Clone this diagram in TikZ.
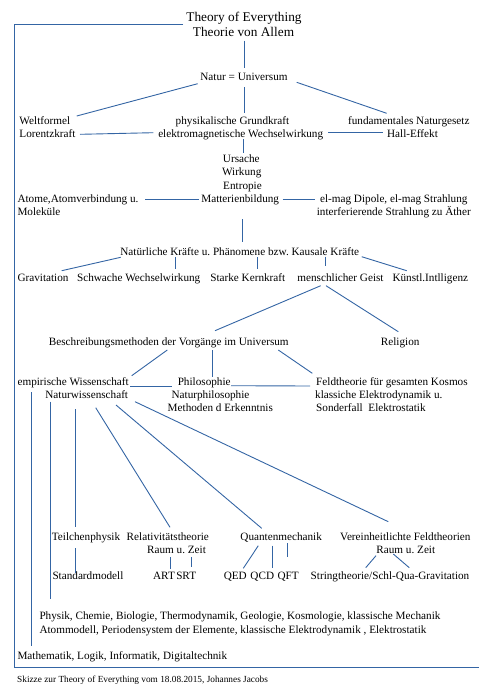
\documentclass[tikz,border=0pt]{standalone}
\usepackage{fontspec}
\setmainfont{Liberation Serif}
\usetikzlibrary{calc}
\definecolor{lineblue}{RGB}{52,101,164}
\frenchspacing
\newcommand\myconn[4]{\draw[ln] ($(#1)+(#2)$) -- ($(#3)+(#4)$);}
\begin{document}
\begin{tikzpicture}[x=1pt,y=-1pt,
  txt/.style={inner sep=0pt, font=\fontsize{11.2}{13.3}\selectfont\frenchspacing, anchor=base},
  txtl/.style={txt, anchor=base west},
  txtr/.style={txt, anchor=base east},
  ttl/.style={inner sep=0pt, font=\fontsize{13.3}{15}\selectfont, anchor=base},
  foottxt/.style={inner sep=0pt, font=\fontsize{9.3}{11}\selectfont\frenchspacing, anchor=base west},
  ln/.style={draw=lineblue, line width=0.9pt}]
\useasboundingbox (0,0) rectangle (496,697);
% nodes
\node[ttl] (t1) at (244,21.7) {Theory of Everything};
\node[ttl] (t2) at (243.5,36.7) {Theorie von Allem};
\node[txt] (natur) at (244,80.7) {Natur = Universum};
\node[txtl] (welt) at (19.3,124.1) {Weltformel};
\node[txt] (phys) at (232.5,124.1) {physikalische Grundkraft};
\node[txt] (fund) at (408.8,124.1) {fundamentales Naturgesetz};
\node[txtl] (lorentz) at (19.3,137.4) {Lorentzkraft};
\node[txt] (elektro) at (240.7,137.4) {elektromagnetische Wechselwirkung};
\node[txt] (hall) at (412.5,137.4) {Hall-Effekt};
\node[txt] (urs) at (241.3,162.7) {Ursache};
\node[txt] (wirk) at (241.7,175.7) {Wirkung};
\node[txt] (entr) at (242.5,189.1) {Entropie};
\node[txt] (matter) at (240.2,202.7) {Matterienbildung};
\node[txtl] (atome) at (17.3,202.7) {Atome,Atomverbindung u.};
\node[txtl] (molek) at (17.3,215.7) {Moleküle};
\node[txt] (elmag1) at (393.8,202.7) {el-mag Dipole, el-mag Strahlung};
\node[txt] (elmag2) at (393.8,215.7) {interferierende Strahlung zu Äther};
\node[txt] (natk) at (239.7,255.1) {Natürliche Kräfte u. Phänomene bzw. Kausale Kräfte};
\node[txtl] (grav) at (17.3,281.1) {Gravitation};
\node[txt] (schw) at (138.7,281.1) {Schwache Wechselwirkung};
\node[txt] (stark) at (247.8,281.1) {Starke Kernkraft};
\node[txt] (mensch) at (340.5,281.1) {menschlicher Geist};
\node[txt] (kuenstl) at (430.3,281.1) {Künstl.Intlligenz};
\node[txt] (beschr) at (168.8,345.7) {Beschreibungsmethoden der Vorgänge im Universum};
\node[txt] (relig) at (400.2,345.7) {Religion};
\node[txtr] (empir) at (129,385.6) {empirische Wissenschaft};
\node[txt] (philo) at (204.2,385.6) {Philosophie};
\node[txtl] (feld) at (316,385.6) {Feldtheorie für gesamten Kosmos};
\node[txtr] (natwiss) at (128.3,398.2) {Naturwissenschaft};
\node[txt] (natphil) at (210.5,398.2) {Naturphilosophie};
\node[txtl] (klass) at (315,398.2) {klassiche Elektrodynamik u.};
\node[txt] (method) at (220.3,411.2) {Methoden d Erkenntnis};
\node[txtl] (sonder) at (316,411.2) {Sonderfall\ \ Elektrostatik};
\node[txtl] (teil) at (51.7,540.8) {Teilchenphysik};
\node[txt] (relat) at (167.8,540.8) {Relativitätstheorie};
\node[txt] (quant) at (281.2,540.8) {Quantenmechanik};
\node[txt] (verein) at (405.3,540.8) {Vereinheitlichte Feldtheorien};
\node[txt] (raum1) at (176.5,553.4) {Raum u. Zeit};
\node[txt] (raum2) at (405.8,553.4) {Raum u. Zeit};
\node[txtl] (stdm) at (52.3,579.3) {Standardmodell};
\node[txt] (art) at (164,579.3) {ART};
\node[txt] (srt) at (186.2,579.3) {SRT};
\node[txt] (qed) at (235.3,579.3) {QED};
\node[txt] (qcd) at (262.3,579.3) {QCD};
\node[txt] (qft) at (288.2,579.3) {QFT};
\node[txt] (string) at (390,579.3) {Stringtheorie/Schl-Qua-Gravitation};
\node[txtl] (physik) at (39.3,619.1) {Physik, Chemie, Biologie, Thermodynamik, Geologie, Kosmologie, klassische Mechanik};
\node[txtl] (atomm) at (39.3,633.4) {Atommodell, Periodensystem der Elemente, klassische Elektrodynamik , Elektrostatik};
\node[txtl] (mathe) at (17.3,659.1) {Mathematik, Logik, Informatik, Digitaltechnik};
\node[foottxt] (foot) at (17,682.7) {Skizze zur Theory of Everything vom 18.08.2015, Johannes Jacobs};
% frame
\coordinate (frameCorner) at (14.3,667.3);
\coordinate (frameEnd) at (479.3,667.3);
\draw[ln] ($(t1.base)+(-61,2.6)$) -| (frameCorner) -- (frameEnd);
% connectors
\myconn{t2.base}{0.8,4}{natur.base}{0.3,-12.4}
\myconn{natur.base}{-46.3,3}{welt.base west}{57.4,-8.1}
\myconn{natur.base}{0.3,6.6}{phys.base}{11.8,-10.8}
\myconn{natur.base}{52.7,1.6}{fund.base}{-22.1,-10.8}
\myconn{lorentz.base west}{60.7,-3.1}{elektro.base}{-87.4,-4.7}
\myconn{elektro.base}{87.6,-4.7}{hall.base}{-29.2,-4.7}
\myconn{elektro.base}{2.6,1.9}{urs.base}{2,-9.4}
\myconn{atome.base west}{127.7,-3.7}{matter.base}{-41.2,-3.7}
\myconn{matter.base}{42.5,-3.7}{elmag1.base}{-78.8,-3.7}
\myconn{matter.base}{2.1,16.6}{natk.base}{2.6,-13.4}
\myconn{natk.base}{-119,2.2}{grav.base west}{44.4,-10.4}
\myconn{natk.base}{-64,2.2}{schw.base}{37,-11.8}
\myconn{natk.base}{17.6,2.2}{stark.base}{9.5,-11.8}
\myconn{natk.base}{86,1.6}{mensch.base}{-14.8,-15.1}
\myconn{natk.base}{122,1.6}{kuenstl.base}{-23.6,-10.4}
\myconn{mensch.base}{-19.8,4.6}{beschr.base}{46.2,-15}
\myconn{mensch.base}{-14.5,4.6}{relig.base}{-1.9,-14}
\myconn{beschr.base}{-1.5,4.3}{empir.base east}{2.7,-9.9}
\myconn{beschr.base}{43.5,4.3}{philo.base}{8.1,-8.3}
\myconn{beschr.base}{109.5,4.3}{feld.base west}{-3.7,-12.3}
\myconn{empir.base east}{1,0.4}{philo.base}{-32.5,0.4}
\myconn{philo.base}{26.8,0.1}{feld.base west}{-6,0.4}
\myconn{empir.base east}{-97.7,6.7}{mathe.base west}{14,-13.4}
\myconn{natwiss.base east}{-77.6,3.5}{physik.base west}{11.4,-20.1}
\myconn{natwiss.base east}{-52.6,11.1}{teil.base west}{24,-13.5}
\myconn{teil.base west}{24,7.5}{stdm.base west}{23.4,-6.6}
\myconn{natwiss.base east}{-32.6,9.5}{relat.base}{2.2,-13.5}
\myconn{natwiss.base east}{-12.3,6.8}{quant.base}{-19.5,-12.5}
\myconn{natwiss.base east}{6.7,3.5}{verein.base}{-17,-19.1}
\myconn{raum1.base}{-5.8,3.9}{art.base}{6.7,-10}
\myconn{raum1.base}{15.2,3.9}{srt.base}{5.5,-12.6}
\myconn{quant.base}{-22.9,4.9}{qed.base}{8,-11}
\myconn{quant.base}{-8.5,4.9}{qcd.base}{10.4,-11}
\myconn{quant.base}{6.1,2.5}{qft.base}{-0.9,-22}
\myconn{raum2.base}{-29.8,2.3}{string.base}{-24.3,-11.6}
\myconn{raum2.base}{-12.5,0.6}{string.base}{19.3,-11.6}
\end{tikzpicture}
\end{document}
